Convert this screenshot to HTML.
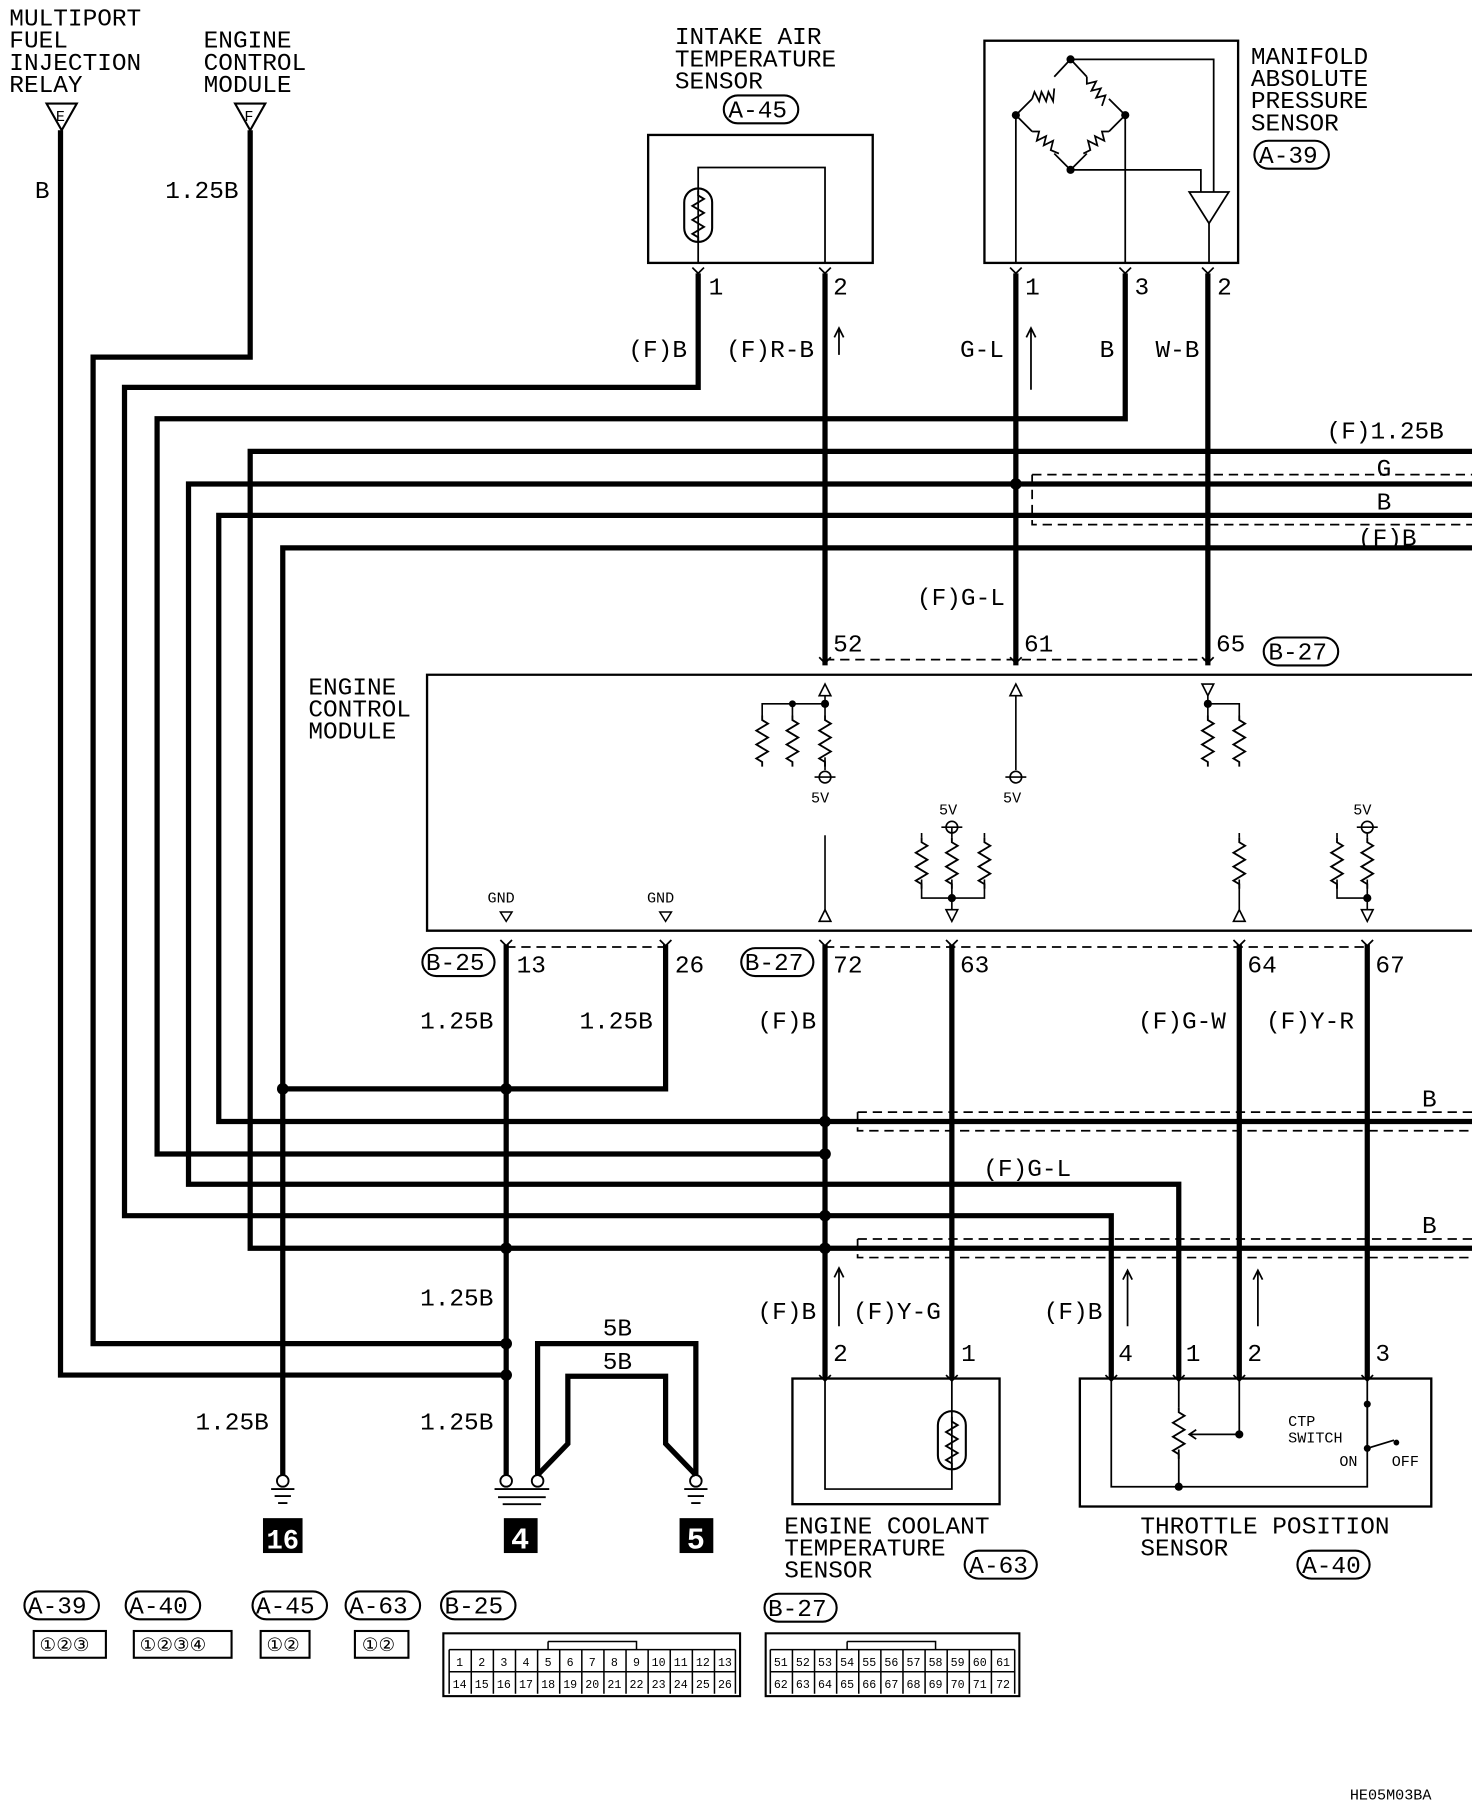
<!DOCTYPE html>
<html><head><meta charset="utf-8"><style>
html,body{margin:0;padding:0;background:#fff}
svg{display:block}
text{font-family:"Liberation Mono",monospace;fill:#000}
.t{font-size:21px}
.s{font-size:13px}
.g{font-size:10px}
</style></head><body>
<svg width="1472" height="1802" viewBox="0 0 1265 1549" preserveAspectRatio="none" xmlns="http://www.w3.org/2000/svg">
<defs>
<g id="r"><path d="M0,0 l0,4 l5,3 l-10,6 l10,6 l-10,6 l10,6 l-10,6 l5,3 l0,4" fill="none" stroke="#000" stroke-width="1.6"/></g>
<g id="tr"><path d="M-5,0 L0,5 L5,0" fill="none" stroke="#000" stroke-width="1.5"/></g>
</defs>
<g fill="none" stroke="#000">
<g stroke-width="4.5" stroke-linejoin="miter">
<path d="M52,112 V1182 H435"/>
<path d="M215,112 V307 H80 V1155 H435"/>
<path d="M600,235 V333 H107 V1045 H955 V1185"/>
<path d="M967,235 V360 H135 V992 H709"/>
<path d="M1265,388 H215 V1073 H1265"/>
<path d="M1265,416 H162 V1018 H1013 V1185"/>
<path d="M1265,443 H188 V964 H1265"/>
<path d="M1265,471 H243 V1268"/>
<path d="M243,936 H572 V812"/>
<path d="M435,812 V1268"/>
<path d="M709,235 V572"/><path d="M873,235 V572"/><path d="M1038,235 V572"/>
<path d="M709,812 V1185"/><path d="M818,812 V1185"/><path d="M1065,812 V1185"/><path d="M1175,812 V1185"/>
<path d="M462,1268 V1155 H598 V1268"/>
<path d="M462,1268 L488,1241 V1183 H572 V1241 L598,1268"/>
</g>
<g fill="#000" stroke="none">
<circle cx="243" cy="936" r="5"/><circle cx="435" cy="936" r="5"/><circle cx="435" cy="1073" r="5"/><circle cx="435" cy="1155" r="5"/><circle cx="435" cy="1182" r="5"/>
<circle cx="709" cy="964" r="5"/><circle cx="709" cy="992" r="5"/><circle cx="709" cy="1045" r="5"/><circle cx="709" cy="1073" r="5"/>
<circle cx="873" cy="416" r="5"/>
</g>
<g stroke-width="1.5" stroke-dasharray="8,5">
<path d="M887,408 H1265 M887,408 V451 H1265"/>
<path d="M737,956 H1265 M737,956 V972 H1265"/>
<path d="M737,1065 H1265 M737,1065 V1081 H1265"/>
<path d="M709,567 H1038"/>
<path d="M435,814 H572"/>
<path d="M709,814 H1175"/>
</g>
<path d="M1265,580 H367 V800 H1265" stroke-width="2"/>
<rect x="557" y="116" width="193" height="110" stroke-width="2"/>
<path d="M600,226 V166 M600,166 V144 H709 V226" stroke-width="1.5"/>
<rect x="588" y="162" width="24" height="46" rx="12" stroke-width="1.8"/>
<use href="#r" x="600" y="164"/>
<rect x="846" y="35" width="218" height="191" stroke-width="2"/>
<g stroke-width="1.5">
<path d="M873,99 L887,85 M906,66 L920,51 L934,66 M953,85 L967,99 L953,113 M934,132 L920,146 L906,132 M887,113 L873,99"/>
<path d="M887,85 l2,-6 l4,8 l2,-8 l4,8 l2,-8 l4,8 l1,-11"/>
<path d="M934,66 l0,6 l8,-2 l-4,8 l8,-2 l-4,8 l8,-2 l-3,9"/>
<path d="M953,113 l-6,0 l2,8 l-8,-4 l2,8 l-8,-4 l2,8 l-6,3"/>
<path d="M887,113 l6,0 l-2,8 l8,-4 l-2,8 l8,-4 l-2,8 l7,3"/>
<path d="M873,99 V226"/>
<path d="M967,99 V226"/>
<path d="M920,51 H1043 V165"/>
<path d="M920,146 H1032 V165"/>
<path d="M1022,165 H1056 L1039,192 Z"/>
<path d="M1039,192 V226"/>
</g>
<g fill="#000" stroke="none"><circle cx="920" cy="51" r="3.5"/><circle cx="873" cy="99" r="3.5"/><circle cx="967" cy="99" r="3.5"/><circle cx="920" cy="146" r="3.5"/></g>
<path d="M40,89 H66 L53,112 Z" stroke-width="1.8"/>
<path d="M202,89 H228 L215,112 Z" stroke-width="1.8"/>
<g stroke-width="1.5">
<use href="#tr" x="600" y="230"/><use href="#tr" x="709" y="230"/><use href="#tr" x="873" y="230"/><use href="#tr" x="967" y="230"/><use href="#tr" x="1038" y="230"/>
<use href="#tr" x="709" y="565"/><use href="#tr" x="873" y="565"/><use href="#tr" x="1038" y="565"/>
<use href="#tr" x="435" y="808"/><use href="#tr" x="572" y="808"/><use href="#tr" x="709" y="808"/><use href="#tr" x="818" y="808"/><use href="#tr" x="1065" y="808"/><use href="#tr" x="1175" y="808"/>
<use href="#tr" x="709" y="1182"/><use href="#tr" x="818" y="1182"/><use href="#tr" x="955" y="1182"/><use href="#tr" x="1013" y="1182"/><use href="#tr" x="1065" y="1182"/><use href="#tr" x="1175" y="1182"/>
</g>
<g stroke-width="1.4">
<path d="M704,598 L709,588 L714,598 Z"/><path d="M709,598 V605 H655 V615 M681,605 V615 M709,605 V615"/>
<use href="#r" x="655" y="615"/><use href="#r" x="681" y="615"/><use href="#r" x="709" y="615"/>
<path d="M709,651 V662"/><circle cx="709" cy="668" r="5"/><path d="M700,668 H718"/>
<path d="M868,598 L873,588 L878,598 Z"/><path d="M873,598 V662"/><circle cx="873" cy="668" r="5"/><path d="M864,668 H882"/>
<path d="M1033,588 H1043 L1038,598 Z"/><path d="M1038,598 V605 H1065 V615 M1038,605 V615"/>
<use href="#r" x="1038" y="615"/><use href="#r" x="1065" y="615"/>
<path d="M704,792 L709,782 L714,792 Z"/><path d="M709,782 V718"/>
<path d="M818,711 V720"/><circle cx="818" cy="711" r="5"/><path d="M809,711 H827"/>
<use href="#r" x="792" y="720"/><use href="#r" x="818" y="720"/><use href="#r" x="846" y="720"/>
<path d="M792,716 V720 M846,716 V720 M792,756 V772 H846 V756 M818,756 V782"/>
<path d="M813,782 H823 L818,792 Z"/>
<use href="#r" x="1065" y="720"/><path d="M1065,716 V720 M1065,756 V782"/><path d="M1060,792 L1065,782 L1070,792 Z"/>
<circle cx="1175" cy="711" r="5"/><path d="M1166,711 H1184 M1175,716 V720"/>
<use href="#r" x="1149" y="720"/><use href="#r" x="1175" y="720"/>
<path d="M1149,716 V720 M1149,756 V772 H1175 M1175,756 V782"/><path d="M1170,782 H1180 L1175,792 Z"/>
</g>
<g fill="#000" stroke="none"><circle cx="681" cy="605" r="3"/><circle cx="709" cy="605" r="3.5"/><circle cx="1038" cy="605" r="3.5"/><circle cx="818" cy="772" r="3.5"/><circle cx="1175" cy="772" r="3.5"/></g>
<path d="M430,784 H440 L435,792 Z" stroke-width="1.3"/><path d="M567,784 H577 L572,792 Z" stroke-width="1.3"/>
<g stroke-width="1.5"><path d="M721,305 V282 M717,290 L721,282 L725,290"/><path d="M886,335 V282 M882,290 L886,282 L890,290"/>
<path d="M721,1140 V1090 M717,1098 L721,1090 L725,1098"/><path d="M969,1140 V1092 M965,1100 L969,1092 L973,1100"/><path d="M1081,1140 V1092 M1077,1100 L1081,1092 L1085,1100"/></g>
<rect x="681" y="1185" width="178" height="108" stroke-width="2"/>
<path d="M709,1185 V1280 H818 V1185" stroke-width="1.5"/>
<rect x="806" y="1213" width="24" height="50" rx="12" stroke-width="1.8"/>
<use href="#r" x="818" y="1218"/>
<rect x="928" y="1185" width="302" height="110" stroke-width="2"/>
<g stroke-width="1.5">
<path d="M955,1185 V1278 H1175 V1185 M1013,1185 V1210"/>
<use href="#r" x="1013" y="1210"/><path d="M1013,1246 V1278 M1065,1185 V1233 H1022 M1028,1229 L1022,1233 L1028,1237"/>
<path d="M1175,1205 V1245 L1198,1238"/>
</g>
<g fill="#000" stroke="none"><circle cx="1013" cy="1278" r="3.5"/><circle cx="1065" cy="1233" r="3.5"/><circle cx="1175" cy="1207" r="3"/><circle cx="1175" cy="1245" r="3"/><circle cx="1200" cy="1240" r="2.5"/></g>
<g stroke-width="1.6">
<circle cx="243" cy="1273" r="5"/><path d="M233,1280 H253 M236,1286 H250 M239,1292 H247"/>
<circle cx="435" cy="1273" r="5"/><circle cx="462" cy="1273" r="5"/><path d="M425,1280 H472 M428,1287 H469 M432,1293 H465"/>
<circle cx="598" cy="1273" r="5"/><path d="M588,1280 H608 M591,1286 H605 M594,1292 H602"/>
</g>
<g stroke-width="1.8">
<rect x="622" y="82" width="64" height="24" rx="12"/>
<rect x="1078" y="121" width="64" height="24" rx="12"/>
<rect x="1086" y="548" width="64" height="24" rx="12"/>
<rect x="363" y="815" width="62" height="24" rx="12"/>
<rect x="637" y="815" width="62" height="24" rx="12"/>
<rect x="829" y="1333" width="62" height="24" rx="12"/>
<rect x="1115" y="1333" width="62" height="24" rx="12"/>
<rect x="21" y="1368" width="64" height="24" rx="12"/>
<rect x="108" y="1368" width="64" height="24" rx="12"/>
<rect x="217" y="1368" width="64" height="24" rx="12"/>
<rect x="297" y="1368" width="64" height="24" rx="12"/>
<rect x="379" y="1368" width="64" height="24" rx="12"/>
<rect x="657" y="1370" width="62" height="24" rx="12"/>
</g>
<g stroke-width="1.8">
<rect x="29" y="1402" width="62" height="23"/><rect x="115" y="1402" width="84" height="23"/>
<rect x="224" y="1402" width="42" height="23"/><rect x="305" y="1402" width="46" height="23"/>
<rect x="381" y="1404" width="255" height="54"/><rect x="658" y="1404" width="218" height="54"/>
</g>
</g>
<g stroke="#000" stroke-width="1.3" fill="none">
<path d="M386,1418 H632 M386,1418 V1456 M632,1418 V1456 M386,1437 H632"/>
<path d="M662,1418 H872 M662,1418 V1456 M872,1418 V1456 M662,1437 H872"/>
<path d="M405,1418V1456M424,1418V1456M443,1418V1456M462,1418V1456M481,1418V1456M500,1418V1456M519,1418V1456M538,1418V1456M557,1418V1456M576,1418V1456M595,1418V1456M614,1418V1456"/>
<path d="M681,1418V1456M700,1418V1456M719,1418V1456M738,1418V1456M757,1418V1456M776,1418V1456M795,1418V1456M814,1418V1456M833,1418V1456M852,1418V1456"/>
<path d="M471,1411 H547 V1418 M471,1411 V1418 M728,1411 H804 V1418 M728,1411 V1418"/>
</g>
<g class="g" text-anchor="middle">
<text x="395" y="1432">1</text><text x="414" y="1432">2</text><text x="433" y="1432">3</text><text x="452" y="1432">4</text><text x="471" y="1432">5</text><text x="490" y="1432">6</text><text x="509" y="1432">7</text><text x="528" y="1432">8</text><text x="547" y="1432">9</text><text x="566" y="1432">10</text><text x="585" y="1432">11</text><text x="604" y="1432">12</text><text x="623" y="1432">13</text>
<text x="395" y="1451">14</text><text x="414" y="1451">15</text><text x="433" y="1451">16</text><text x="452" y="1451">17</text><text x="471" y="1451">18</text><text x="490" y="1451">19</text><text x="509" y="1451">20</text><text x="528" y="1451">21</text><text x="547" y="1451">22</text><text x="566" y="1451">23</text><text x="585" y="1451">24</text><text x="604" y="1451">25</text><text x="623" y="1451">26</text>
<text x="671" y="1432">51</text><text x="690" y="1432">52</text><text x="709" y="1432">53</text><text x="728" y="1432">54</text><text x="747" y="1432">55</text><text x="766" y="1432">56</text><text x="785" y="1432">57</text><text x="804" y="1432">58</text><text x="823" y="1432">59</text><text x="842" y="1432">60</text><text x="862" y="1432">61</text>
<text x="671" y="1451">62</text><text x="690" y="1451">63</text><text x="709" y="1451">64</text><text x="728" y="1451">65</text><text x="747" y="1451">66</text><text x="766" y="1451">67</text><text x="785" y="1451">68</text><text x="804" y="1451">69</text><text x="823" y="1451">70</text><text x="842" y="1451">71</text><text x="862" y="1451">72</text>
</g>
<g font-size="16">
<text x="34" y="1419">①②③</text><text x="120" y="1419">①②③④</text><text x="229" y="1419">①②</text><text x="311" y="1419">①②</text>
</g>
<g class="t">
<text x="8" y="22">MULTIPORT</text><text x="8" y="41">FUEL</text><text x="8" y="60">INJECTION</text><text x="8" y="79">RELAY</text>
<text x="175" y="41">ENGINE</text><text x="175" y="60">CONTROL</text><text x="175" y="79">MODULE</text>
<text x="580" y="38">INTAKE AIR</text><text x="580" y="57">TEMPERATURE</text><text x="580" y="76">SENSOR</text>
<text x="1075" y="55">MANIFOLD</text><text x="1075" y="74">ABSOLUTE</text><text x="1075" y="93">PRESSURE</text><text x="1075" y="112">SENSOR</text>
<text x="626" y="101">A-45</text><text x="1082" y="140">A-39</text><text x="1090" y="567">B-27</text>
<text x="30" y="170">B</text><text x="142" y="170">1.25B</text>
<text x="609" y="253">1</text><text x="716" y="253">2</text><text x="881" y="253">1</text><text x="975" y="253">3</text><text x="1046" y="253">2</text>
<text x="540" y="307">(F)B</text><text x="624" y="307">(F)R-B</text><text x="825" y="307">G-L</text><text x="945" y="307">B</text><text x="993" y="307">W-B</text>
<text x="1140" y="377">(F)1.25B</text><text x="1183" y="409">G</text><text x="1183" y="438">B</text><text x="1167" y="469">(F)B</text>
<text x="788" y="520">(F)G-L</text>
<text x="716" y="560">52</text><text x="880" y="560">61</text><text x="1045" y="560">65</text>
<text x="265" y="597">ENGINE</text><text x="265" y="616">CONTROL</text><text x="265" y="635">MODULE</text>
<text x="366" y="834">B-25</text><text x="640" y="834">B-27</text>
<text x="444" y="836">13</text><text x="580" y="836">26</text><text x="716" y="836">72</text><text x="825" y="836">63</text><text x="1072" y="836">64</text><text x="1182" y="836">67</text>
<text x="361" y="884">1.25B</text><text x="498" y="884">1.25B</text><text x="651" y="884">(F)B</text><text x="978" y="884">(F)G-W</text><text x="1088" y="884">(F)Y-R</text>
<text x="1222" y="951">B</text><text x="845" y="1011">(F)G-L</text><text x="1222" y="1060">B</text>
<text x="361" y="1122">1.25B</text><text x="518" y="1148">5B</text><text x="518" y="1177">5B</text>
<text x="651" y="1134">(F)B</text><text x="733" y="1134">(F)Y-G</text><text x="897" y="1134">(F)B</text>
<text x="716" y="1170">2</text><text x="826" y="1170">1</text><text x="961" y="1170">4</text><text x="1019" y="1170">1</text><text x="1072" y="1170">2</text><text x="1182" y="1170">3</text>
<text x="168" y="1229">1.25B</text><text x="361" y="1229">1.25B</text>
<text x="674" y="1318">ENGINE COOLANT</text><text x="674" y="1337">TEMPERATURE</text><text x="674" y="1356">SENSOR</text>
<text x="980" y="1318">THROTTLE POSITION</text><text x="980" y="1337">SENSOR</text>
<text x="833" y="1352">A-63</text><text x="1119" y="1352">A-40</text>
<text x="24" y="1387">A-39</text><text x="111" y="1387">A-40</text><text x="220" y="1387">A-45</text><text x="300" y="1387">A-63</text><text x="382" y="1387">B-25</text><text x="660" y="1389">B-27</text>
</g>
<g class="s">
<text x="48" y="104">E</text><text x="210" y="104">F</text>
<text x="697" y="690">5V</text><text x="862" y="690">5V</text><text x="807" y="700">5V</text><text x="1163" y="700">5V</text>
<text x="419" y="776">GND</text><text x="556" y="776">GND</text>
<text x="1107" y="1226">CTP</text><text x="1107" y="1240">SWITCH</text><text x="1151" y="1260">ON</text><text x="1196" y="1260">OFF</text>
<text x="1160" y="1547">HE05M03BA</text>
</g>
<rect x="226" y="1305" width="34" height="30" fill="#000"/><text x="243" y="1331" font-size="24" text-anchor="middle" style="fill:#fff" font-weight="bold" textLength="28" lengthAdjust="spacingAndGlyphs">16</text>
<rect x="433" y="1305" width="29" height="30" fill="#000"/><text x="447" y="1331" font-size="26" text-anchor="middle" style="fill:#fff" font-weight="bold">4</text>
<rect x="584" y="1305" width="29" height="30" fill="#000"/><text x="598" y="1331" font-size="26" text-anchor="middle" style="fill:#fff" font-weight="bold">5</text>
</svg>
</body></html>
